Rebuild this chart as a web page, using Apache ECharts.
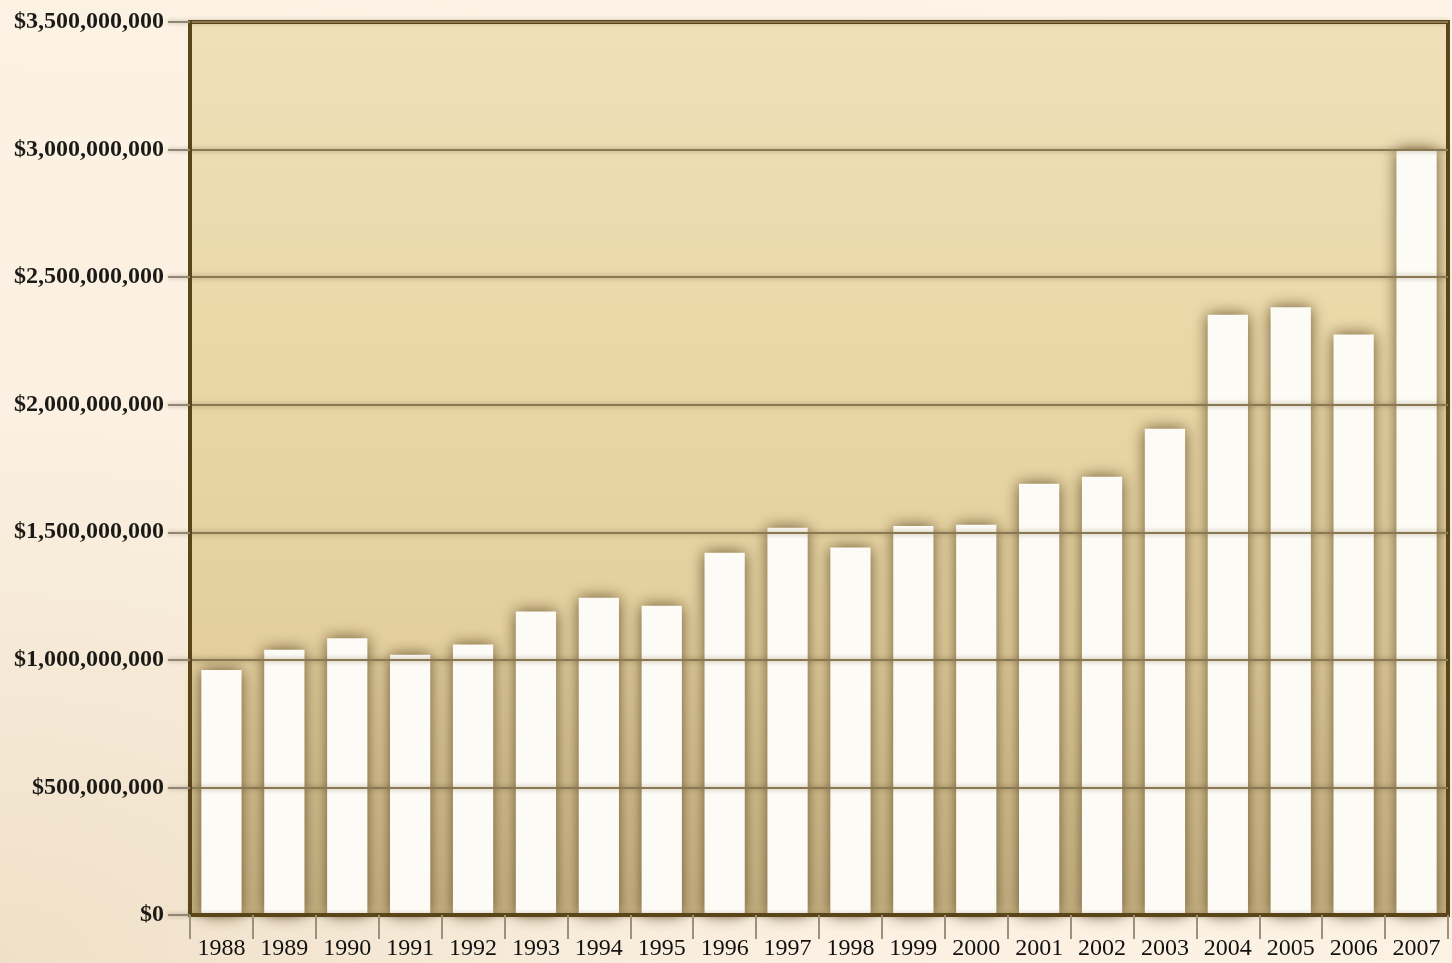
<!DOCTYPE html>
<html>
<head>
<meta charset="utf-8">
<script src="https://cdn.jsdelivr.net/npm/echarts@6/dist/echarts.min.js"></script>
<style>
html,body{margin:0;padding:0;}
body{background:radial-gradient(ellipse at 0% 100%, #efe0c8 0%, #fbf0e1 40%, #fdf4e7 100%);}
#c{width:1452px;height:963px;}
</style>
</head>
<body>
<div id="c"></div>
<script>
const years = ['1988','1989','1990','1991','1992','1993','1994','1995','1996','1997','1998','1999','2000','2001','2002','2003','2004','2005','2006','2007'];
const values = [960000000,1040000000,1085000000,1020000000,1060000000,1190000000,1243000000,1212000000,1420000000,1518000000,1440000000,1525000000,1530000000,1690000000,1718000000,1906000000,2353000000,2382000000,2275000000,3000000000];
const yMin = 0, yMax = 3500000000, yStep = 500000000;

const chart = echarts.init(document.getElementById('c'), null, {renderer:'canvas'});
const serif = '"Liberation Serif","DejaVu Serif",serif';
chart.setOption({
  backgroundColor: 'transparent',
  animation: false,
  grid: {
    left: 190, right: 4, top: 22, bottom: 48,
    show: true, borderWidth: 4, borderColor: '#5a4519',
    backgroundColor: new echarts.graphic.LinearGradient(0,0,0,1,[
      {offset:0,color:'#efe0ba'},
      {offset:0.35,color:'#ead8a8'},
      {offset:0.7,color:'#e3cf9e'},
      {offset:1,color:'#c9b485'}
    ])
  },
  xAxis: {
    type: 'category', data: years, boundaryGap: true, z: 10,
    axisLine: {show:true, lineStyle:{color:'#5a4519', width:4}},
    axisTick: {show:true, interval:0, length:24, lineStyle:{color:'#9d917b', width:2}},
    axisLabel: {interval:0, margin:22, color:'#111', fontFamily:serif, fontSize:24},
    splitLine: {show:false}
  },
  yAxis: {
    type: 'value', min: yMin, max: yMax, interval: yStep, z: 10,
    axisLine: {show:true, lineStyle:{color:'#5a4519', width:4}},
    axisTick: {show:true, length:22, lineStyle:{color:'#8f8676', width:2, shadowColor:'rgba(80,60,30,0.4)', shadowBlur:4}},
    axisLabel: {margin:26, color:'#1c1a16', fontFamily:serif, fontSize:24, fontWeight:'bold',
      formatter: v => '$' + Math.round(v).toLocaleString('en-US')},
    splitLine: {show:true, lineStyle:{color:'#8a7853', width:2, shadowColor:'rgba(90,70,30,0.5)', shadowBlur:5}}
  },
  series: [{
    type: 'bar', data: values, barCategoryGap: '36%',
    itemStyle: {color:'#fdfbf6', shadowColor:'rgba(70,50,15,0.8)', shadowBlur:16},
    emphasis: {disabled:true}
  }]
});
</script>
</body>
</html>
